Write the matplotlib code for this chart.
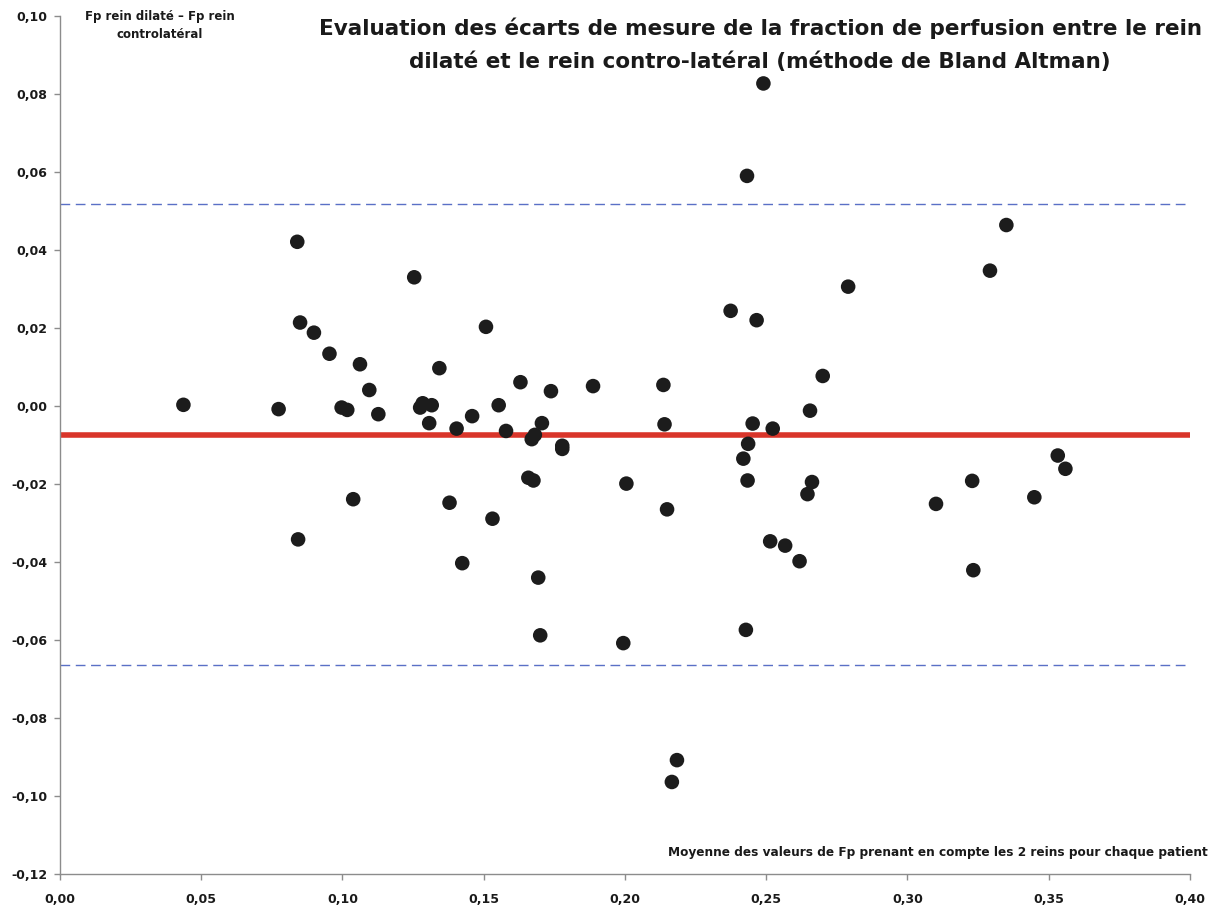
import matplotlib
matplotlib.use("Agg")
import matplotlib.pyplot as plt
from matplotlib.ticker import FuncFormatter

# mean of the two kidneys (x) and difference dilated - contralateral (y)
fp_mean = [
    0.0437, 0.0774, 0.0840, 0.0843, 0.0850, 0.0899, 0.0954, 0.0997, 0.1017, 0.1038,
    0.1062, 0.1095, 0.1127, 0.1254, 0.1275, 0.1284, 0.1316, 0.1307, 0.1343, 0.1379,
    0.1404, 0.1424, 0.1459, 0.1508, 0.1531, 0.1553, 0.1579, 0.1630, 0.1658, 0.1670,
    0.1676, 0.1681, 0.1693, 0.1700, 0.1706, 0.1738, 0.1778, 0.1778, 0.1887, 0.1994,
    0.2005, 0.2136, 0.2140, 0.2149, 0.2166, 0.2184, 0.2374, 0.2419, 0.2428, 0.2432,
    0.2434, 0.2436, 0.2452, 0.2466, 0.2490, 0.2514, 0.2523, 0.2567, 0.2618, 0.2646,
    0.2655, 0.2662, 0.2700, 0.2790, 0.3101, 0.3229, 0.3233, 0.3292, 0.3350, 0.3449,
    0.3532, 0.3559,
]
fp_diff = [
    0.0003, -0.0008, 0.0421, -0.0342, 0.0214, 0.0188, 0.0134, -0.0004, -0.0010, -0.0239,
    0.0107, 0.0041, -0.0021, 0.0330, -0.0004, 0.0007, 0.0002, -0.0044, 0.0097, -0.0248,
    -0.0058, -0.0403, -0.0026, 0.0203, -0.0289, 0.0002, -0.0064, 0.0061, -0.0184, -0.0085,
    -0.0191, -0.0074, -0.0440, -0.0588, -0.0044, 0.0038, -0.0102, -0.0110, 0.0051, -0.0608,
    -0.0199, 0.0054, -0.0047, -0.0265, -0.0964, -0.0908, 0.0244, -0.0135, -0.0574, 0.0590,
    -0.0191, -0.0097, -0.0045, 0.0220, 0.0827, -0.0347, -0.0058, -0.0358, -0.0398, -0.0226,
    -0.0012, -0.0195, 0.0077, 0.0306, -0.0251, -0.0192, -0.0421, 0.0347, 0.0464, -0.0234,
    -0.0127, -0.0161,
]

mean_diff = -0.0074
upper_loa = 0.0517
lower_loa = -0.0665

x_ticks = [0.00, 0.05, 0.10, 0.15, 0.20, 0.25, 0.30, 0.35, 0.40]
y_ticks = [-0.12, -0.10, -0.08, -0.06, -0.04, -0.02, 0.00, 0.02, 0.04, 0.06, 0.08, 0.10]

TITLE = ("Evaluation des écarts de mesure de la fraction de perfusion entre le rein\n"
         "dilaté et le rein contro-latéral (méthode de Bland Altman)")
Y_LABEL = "Fp rein dilaté – Fp rein\ncontrolatéral"
X_LABEL = "Moyenne des valeurs de Fp prenant en compte les 2 reins pour chaque patient"

AXIS_GREY = "#8c8c8c"
RED = "#d9352a"
BLUE = "#5a70c6"

plt.rcParams["font.family"] = ["DejaVu Sans"]

fig = plt.figure(figsize=(12.21, 9.13), dpi=100)
ax = fig.add_axes([0.0491, 0.0427, 0.9255, 0.9398])

ax.axhline(upper_loa, color=BLUE, lw=1.0, ls=(0, (7, 4)), zorder=1)
ax.axhline(lower_loa, color=BLUE, lw=1.0, ls=(0, (7, 4)), zorder=1)
ax.axhline(mean_diff, color=RED, lw=4.0, zorder=2)
ax.scatter(fp_mean, fp_diff, s=110, color="#1c1c1c", edgecolors="none", zorder=3)

ax.set_xlim(0.0, 0.40)
ax.set_ylim(-0.12, 0.10)
ax.set_xticks(x_ticks)
ax.set_yticks(y_ticks)
fmt = FuncFormatter(lambda v, _: f"{v:.2f}".replace(".", ",").replace("-0,00", "0,00"))
ax.xaxis.set_major_formatter(fmt)
ax.yaxis.set_major_formatter(fmt)

for side in ("top", "right"):
    ax.spines[side].set_visible(False)
for side in ("left", "bottom"):
    ax.spines[side].set_color(AXIS_GREY)
    ax.spines[side].set_linewidth(1.0)
ax.tick_params(axis="both", direction="out", length=4, width=1.0, color=AXIS_GREY,
               labelsize=9, labelcolor="#1a1a1a")
ax.tick_params(axis="x", pad=10)
ax.tick_params(axis="y", pad=5)
for lbl in ax.get_xticklabels() + ax.get_yticklabels():
    lbl.set_fontweight("bold")

fig.text(0.6225, 0.981, TITLE, ha="center", va="top", fontsize=15.5, fontweight="bold",
         linespacing=1.75, color="#1a1a1a")
fig.text(0.131, 0.989, Y_LABEL, ha="center", va="top", fontsize=8.5, fontweight="bold",
         linespacing=1.45, color="#1a1a1a")
fig.text(0.989, 0.066, X_LABEL, ha="right", va="center", fontsize=8.7, fontweight="bold",
         color="#1a1a1a")

fig.savefig("out.png", dpi=100, facecolor="white")
